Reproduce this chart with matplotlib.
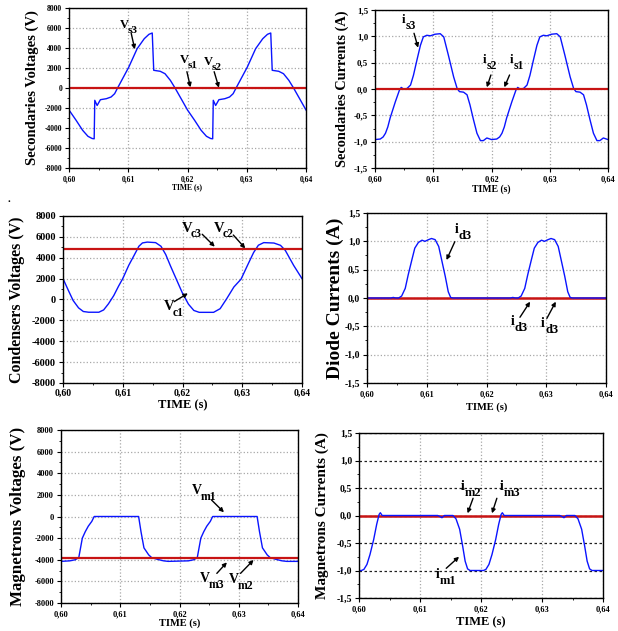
import matplotlib
matplotlib.use('Agg')
import matplotlib.pyplot as plt
from matplotlib.ticker import MultipleLocator, FuncFormatter

plt.rcParams['font.family'] = ['Liberation Serif', 'DejaVu Serif']
plt.rcParams['font.weight'] = 'bold'

BLUE = '#0a14ff'
RED = '#c81414'

# ---- secondaries voltages (V)
vs3_t = [0.6000, 0.6012, 0.6023, 0.6032, 0.6039, 0.60425, 0.60435, 0.60475, 0.6053, 0.6063,
         0.6071, 0.6077, 0.6082, 0.6101, 0.6115, 0.6127, 0.6135, 0.61405, 0.6143, 0.6154,
         0.6162, 0.6171, 0.6179, 0.6190,
         0.6200, 0.6212, 0.6223, 0.6232, 0.6239, 0.62425, 0.62435, 0.62475, 0.6253, 0.6263,
         0.6271, 0.6277, 0.6282, 0.6301, 0.6315, 0.6327, 0.6335, 0.63405, 0.6343, 0.6354,
         0.6362, 0.6371, 0.6379, 0.6390, 0.6400]
vs3_v = [-2200, -3230, -4230, -4830, -5050, -5080, -1230, -1750, -1170, -1070,
         -900, -570, 0, 2100, 3930, 4930, 5370, 5500, 1770, 1670,
         1430, 770, 0, -1150,
         -2200, -3230, -4230, -4830, -5050, -5080, -1230, -1750, -1170, -1070,
         -900, -570, 0, 2100, 3930, 4930, 5370, 5500, 1770, 1670,
         1430, 770, 0, -1150, -2200]
vs12_level = 0

# ---- secondaries currents (A)
is3_t = [0.6000, 0.6009, 0.6014, 0.6018, 0.6022, 0.6026, 0.6035, 0.6042, 0.6045, 0.6049,
         0.6055, 0.6061, 0.6066, 0.6072, 0.6078, 0.6083, 0.6089, 0.6095, 0.6103, 0.6112,
         0.6118, 0.6126, 0.6135, 0.6141, 0.6145, 0.6152, 0.6158, 0.6163, 0.6169, 0.6175,
         0.6181, 0.6186, 0.6192,
         0.6200, 0.6209, 0.6214, 0.6218, 0.6222, 0.6226, 0.6235, 0.6242, 0.6245, 0.6249,
         0.6255, 0.6261, 0.6266, 0.6272, 0.6278, 0.6283, 0.6289, 0.6295, 0.6303, 0.6312,
         0.6318, 0.6326, 0.6335, 0.6341, 0.6345, 0.6352, 0.6358, 0.6363, 0.6369, 0.6375,
         0.6381, 0.6386, 0.6392, 0.6400]
is3_v = [-0.96, -0.95, -0.91, -0.84, -0.72, -0.55, -0.24, -0.02, 0.03, 0.0,
         0.01, 0.075, 0.26, 0.55, 0.83, 0.99, 1.02, 1.01, 1.04, 1.05,
         0.99, 0.64, 0.23, 0.01, -0.05, -0.06, -0.11, -0.30, -0.58, -0.84,
         -0.98, -0.98, -0.93,
         -0.96, -0.95, -0.91, -0.84, -0.72, -0.55, -0.24, -0.02, 0.03, 0.0,
         0.01, 0.075, 0.26, 0.55, 0.83, 0.99, 1.02, 1.01, 1.04, 1.05,
         0.99, 0.64, 0.23, 0.01, -0.05, -0.06, -0.11, -0.30, -0.58, -0.84,
         -0.98, -0.98, -0.93, -0.96]
is12_level = 0

# ---- condensers voltages (V)
vc1_t = [0.6000, 0.6009, 0.6017, 0.6026, 0.6034, 0.6043, 0.6060, 0.6068, 0.6076, 0.6085,
         0.6093, 0.6100, 0.6110, 0.6119, 0.6127, 0.6133, 0.6141, 0.6155, 0.6164, 0.6172,
         0.6180, 0.6190, 0.6200, 0.6210, 0.6219, 0.6228, 0.6252, 0.6263, 0.6274, 0.6286,
         0.6298, 0.6309, 0.6319, 0.6327, 0.6336, 0.6353, 0.6364, 0.6372, 0.6386, 0.6400]
vc1_v = [2000, 870, -100, -800, -1150, -1220, -1220, -1000, -420, 380,
         1280, 2000, 3270, 4230, 5100, 5420, 5500, 5450, 5100, 4300,
         3200, 1900, 600, -450, -1050, -1230, -1230, -880, 80, 1200,
         1950, 3300, 4500, 5200, 5450, 5410, 5190, 4710, 3270, 2000]
vc23_level = 4850

# ---- diode currents (A)
id3_t = [0.6000, 0.6040, 0.6044, 0.6048, 0.6053, 0.6058, 0.6064, 0.6069, 0.6075, 0.6080,
         0.6086, 0.6092, 0.6097, 0.6103, 0.6108, 0.6114, 0.6120, 0.6125, 0.6131, 0.6136,
         0.6140, 0.6144,
         0.6240, 0.6244, 0.6248, 0.6253, 0.6258, 0.6264, 0.6269, 0.6275, 0.6280,
         0.6286, 0.6292, 0.6297, 0.6303, 0.6308, 0.6314, 0.6320, 0.6325, 0.6331, 0.6336,
         0.6340, 0.6344, 0.6400]
id3_v = [0, 0, 0.01, 0, 0, 0.035, 0.17, 0.41, 0.67, 0.88,
         0.98, 1.02, 1.00, 1.03, 1.05, 1.03, 0.91, 0.67, 0.38, 0.11,
         0.01, 0,
         0, 0.01, 0, 0, 0.035, 0.17, 0.41, 0.67, 0.88,
         0.98, 1.02, 1.00, 1.03, 1.05, 1.03, 0.91, 0.67, 0.38, 0.11,
         0.01, 0, 0]
id12_level = 0

# ---- magnetrons voltages (V)
vm1_t = [0.6000, 0.6015, 0.6024, 0.6030, 0.6032, 0.6036, 0.6041, 0.6046, 0.6052, 0.6056,
         0.6131, 0.6135, 0.6140, 0.6148, 0.6153, 0.6162, 0.6173, 0.6181,
         0.6215, 0.6224, 0.6230, 0.6232, 0.6236, 0.6241, 0.6246, 0.6252, 0.6256,
         0.6331, 0.6335, 0.6340, 0.6348, 0.6353, 0.6362, 0.6373, 0.6381, 0.6400]
vm1_v = [-4150, -4100, -4000, -3800, -3200, -2000, -1400, -900, -450, 0,
         0, -1400, -2900, -3550, -3800, -3950, -4100, -4150,
         -4100, -4000, -3800, -3200, -2000, -1400, -900, -450, 0,
         0, -1400, -2900, -3550, -3800, -3950, -4100, -4150, -4150]
vm23_level = -3800

# ---- magnetrons currents (A)
im1_t = [0.6000, 0.6004, 0.6008, 0.6013, 0.6018, 0.6024, 0.6029, 0.6033, 0.6035, 0.6038,
         0.6129, 0.6133, 0.6136, 0.6140, 0.6154, 0.6159, 0.6165, 0.6170, 0.6174, 0.6178,
         0.6182,
         0.6204, 0.6208, 0.6213, 0.6218, 0.6224, 0.6229, 0.6233, 0.6235, 0.6238,
         0.6329, 0.6333, 0.6336, 0.6340, 0.6354, 0.6359, 0.6365, 0.6370, 0.6374, 0.6378,
         0.6382, 0.6400]
im1_v = [-1.0, -1.0, -0.98, -0.89, -0.71, -0.44, -0.16, 0.02, 0.05, 0.0,
         0.0, -0.02, -0.04, 0.0, 0.0, -0.06, -0.25, -0.56, -0.83, -0.97,
         -1.0,
         -1.0, -0.98, -0.89, -0.71, -0.44, -0.16, 0.02, 0.05, 0.0,
         0.0, -0.02, -0.04, 0.0, 0.0, -0.06, -0.25, -0.56, -0.83, -0.97,
         -1.0, -1.0]
im23_level = 0

W, H = 618, 631
fig = plt.figure(figsize=(W / 100, H / 100), dpi=100)


def make_ax(l, r, t, b):
    return fig.add_axes([l / W, 1 - b / H, (r - l) / W, (b - t) / H])


def setup(ax, volt, ytick, xtick, ylabel, ysize, ylx, xlabel_size, xlab_dy, hgrid='#a8a8a8', hls=':'):
    ax.set_xlim(0.60, 0.64)
    ax.xaxis.set_major_locator(MultipleLocator(0.01))
    ax.xaxis.set_minor_locator(MultipleLocator(0.005))
    ax.xaxis.set_major_formatter(FuncFormatter(lambda v, p: f'{v:.2f}'.replace('.', ',')))
    if volt:
        ax.set_ylim(-8000, 8000)
        ax.yaxis.set_major_locator(MultipleLocator(2000))
        ax.yaxis.set_minor_locator(MultipleLocator(1000))
        ax.yaxis.set_major_formatter(FuncFormatter(lambda v, p: f'{v:.0f}'))
    else:
        ax.set_ylim(-1.5, 1.5)
        ax.yaxis.set_major_locator(MultipleLocator(0.5))
        ax.yaxis.set_minor_locator(MultipleLocator(0.25))
        ax.yaxis.set_major_formatter(FuncFormatter(lambda v, p: f'{v:.1f}'.replace('.', ',')))
    ax.tick_params(which='major', direction='out', length=3, width=0.8, pad=2)
    ax.tick_params(which='minor', direction='out', length=1.5, width=0.6)
    ax.tick_params(axis='y', labelsize=ytick)
    ax.tick_params(axis='x', labelsize=xtick)
    for lab in ax.get_xticklabels() + ax.get_yticklabels():
        lab.set_fontweight('bold')
    ax.grid(True, axis='x', which='major', color='#a8a8a8', linestyle=':', linewidth=0.9)
    ax.grid(True, axis='y', which='major', color=hgrid, linestyle=hls, linewidth=0.9)
    for s in ax.spines.values():
        s.set_linewidth(1.0)
    ax.text(ylx, 0.5, ylabel, transform=ax.transAxes, rotation=90, ha='center', va='center',
            fontsize=ysize, fontweight='bold')
    ax.text(0.5, xlab_dy, 'TIME (s)', transform=ax.transAxes, ha='center', va='center',
            fontsize=xlabel_size, fontweight='bold')


def tag(ax, x, y, main, sub, size, subsize, wem, drop, tail, tip):
    ax.annotate(main, xy=(x, y), fontsize=size, fontweight='bold', ha='left', va='baseline')
    ax.annotate(sub, xy=(x, y), xytext=(wem * size, -drop), textcoords='offset points',
                fontsize=subsize, fontweight='bold', ha='left', va='baseline')
    ax.annotate('', xy=tip, xytext=tail,
                arrowprops=dict(arrowstyle='-|>', color='k', lw=1.0, mutation_scale=6,
                                shrinkA=0, shrinkB=0))


# panel 1
ax1 = make_ax(69, 306, 8, 168)
setup(ax1, True, 5.5, 5.5, 'Secondaries Voltages (V)', 10.5, -0.156, 5.5, -0.12)
ax1.plot(vs3_t, vs3_v, color=BLUE, lw=1.0)
ax1.axhline(vs12_level, color=RED, lw=1.6)
tag(ax1, 0.6086, 5970, 'V', 's3', 9, 8, 0.62, 3.6, (0.6105, 5470), (0.6111, 3870))
tag(ax1, 0.6187, 2470, 'V', 's1', 9, 8, 0.62, 3.6, (0.6199, 1630), (0.6205, 70))
tag(ax1, 0.6227, 2300, 'V', 's2', 9, 8, 0.62, 3.6, (0.6245, 1630), (0.6253, 30))

# panel 2
ax2 = make_ax(375, 608, 10, 168)
setup(ax2, False, 6.5, 6, 'Secondaries Currents (A)', 10.4, -0.142, 7, -0.133)
ax2.plot(is3_t, is3_v, color=BLUE, lw=1.0)
ax2.axhline(is12_level, color=RED, lw=1.6)
tag(ax2, 0.6046, 1.247, 'i', 's3', 9.5, 8.5, 0.3, 4.3, (0.6067, 1.058), (0.6074, 0.784))
tag(ax2, 0.6185, 0.50, 'i', 's2', 9.5, 8.5, 0.3, 4.3, (0.6199, 0.266), (0.6192, 0.032))
tag(ax2, 0.6232, 0.49, 'i', 's1', 9.5, 8.5, 0.3, 4.3, (0.6231, 0.266), (0.6222, 0.032))

# panel 3
ax3 = make_ax(63, 302, 216, 383)
setup(ax3, True, 7.5, 7, 'Condensers Voltages (V)', 11.5, -0.192, 9, -0.135)
ax3.tick_params(axis='x', pad=1)
ax3.plot(vc1_t, vc1_v, color=BLUE, lw=1.0)
ax3.axhline(vc23_level, color=RED, lw=1.6)
tag(ax3, 0.6199, 6500, 'V', 'c3', 10.5, 8.5, 0.62, 4.2, (0.6233, 6250), (0.6254, 5060))
tag(ax3, 0.6252, 6500, 'V', 'c2', 10.5, 8.5, 0.62, 4.2, (0.6285, 6180), (0.6305, 4900))
tag(ax3, 0.6168, -1000, 'V', 'c1', 10.5, 8.5, 0.62, 4.2, (0.6186, -210), (0.6209, 590))

# panel 4
ax4 = make_ax(367, 606, 213, 383)
setup(ax4, False, 7, 6, 'Diode Currents (A)', 14, -0.134, 7.5, -0.14)
ax4.axhline(id12_level, color=RED, lw=1.8)
ax4.plot(id3_t, id3_v, color=BLUE, lw=1.0)
tag(ax4, 0.6147, 1.14, 'i', 'd3', 10, 9, 0.3, 4.3, (0.6147, 0.994), (0.6133, 0.67))
tag(ax4, 0.6240, -0.476, 'i', 'd3', 10, 9, 0.3, 4.3, (0.6256, -0.34), (0.6273, -0.065))
tag(ax4, 0.6291, -0.506, 'i', 'd3', 10, 9, 0.3, 4.3, (0.6301, -0.36), (0.6316, -0.065))

# panel 5
ax5 = make_ax(61, 298, 430, 603)
setup(ax5, True, 6, 6, 'Magnetrons Voltages (V)', 12.2, -0.181, 7.5, -0.115)
ax5.plot(vm1_t, vm1_v, color=BLUE, lw=1.0)
ax5.axhline(vm23_level, color=RED, lw=1.6)
tag(ax5, 0.6221, 2080, 'V', 'm1', 10, 8.5, 0.62, 4.2, (0.6254, 1530), (0.6275, 390))
tag(ax5, 0.6235, -6030, 'V', 'm3', 10, 8.5, 0.62, 4.2, (0.6263, -5260), (0.6280, -4240))
tag(ax5, 0.6284, -6180, 'V', 'm2', 10, 8.5, 0.62, 4.2, (0.6303, -5260), (0.6325, -4020))

# panel 6
ax6 = make_ax(359, 603, 433, 598)
setup(ax6, False, 7, 6, 'Magnetrons Currents (A)', 11, -0.152, 9, -0.145, hgrid='#202020', hls=(0, (2, 2)))
ax6.axhline(im23_level, color=RED, lw=1.8)
ax6.plot(im1_t, im1_v, color=BLUE, lw=1.0)
tag(ax6, 0.6166, 0.464, 'i', 'm2', 10, 9, 0.3, 4.3, (0.6187, 0.313), (0.6178, 0.04))
tag(ax6, 0.6231, 0.464, 'i', 'm3', 10, 9, 0.3, 4.3, (0.6226, 0.313), (0.6218, 0.04))
tag(ax6, 0.6125, -1.142, 'i', 'm1', 10, 9, 0.3, 4.3, (0.6143, -0.96), (0.6164, -0.75))

fig.text(8 / W, 1 - 202 / H, '.', fontsize=8, fontweight='bold')

fig.savefig('out.png', dpi=100)
